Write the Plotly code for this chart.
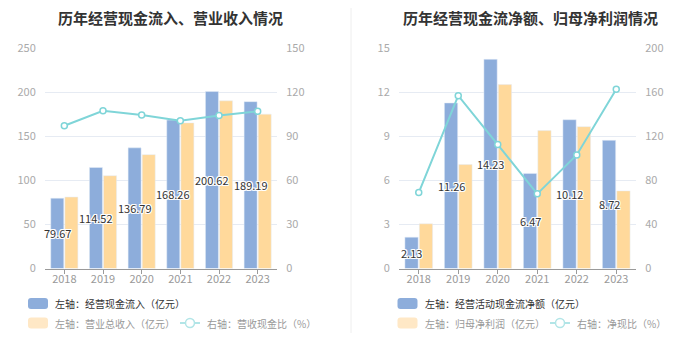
import plotly.graph_objects as go

years = ["2018", "2019", "2020", "2021", "2022", "2023"]

# Left chart
cash_inflow = [79.67, 114.52, 136.79, 168.26, 200.62, 189.19]
revenue = [81.0, 105.2, 129.1, 165.1, 190.1, 175.0]
rev_cash_ratio = [97.1, 107.3, 104.4, 100.5, 104.1, 106.9]

# Right chart
net_cash = [2.13, 11.26, 14.23, 6.47, 10.12, 8.72]
net_profit = [3.04, 7.07, 12.51, 9.38, 9.65, 5.28]
net_cash_ratio = [68.9, 156.8, 112.4, 67.7, 103.0, 162.6]

left_title = "历年经营现金流入、营业收入情况"
right_title = "历年经营现金流净额、归母净利润情况"
left_legend = ["左轴：经营现金流入（亿元）", "左轴：营业总收入（亿元）", "右轴：营收现金比（%）"]
right_legend = ["左轴：经营活动现金流净额（亿元）", "左轴：归母净利润（亿元）", "右轴：净现比（%）"]

BLUE = "#8DADDB"
ORANGE = "#FFD99B"
TEAL = "#7FD5D8"
FONT = "Noto Sans CJK SC"
OFF = 8                      # page body margin
W, H = 700 - OFF, 359 - OFF
BARGAP, GROUPGAP = 0.27, 0.08
SHADOW = "1px 1px 0 #fff, -1px -1px 0 #fff, 1px -1px 0 #fff, -1px 1px 0 #fff, 0 1px 0 #fff, 0 -1px 0 #fff, 1px 0 0 #fff, -1px 0 0 #fff"

def PX(x):
    return (x - OFF) / W

def PY(y):
    return 1 - (y - OFF) / H

fig = go.Figure()

def add_panel(xa, ya, ya2, a, b, ratio):
    fig.add_trace(go.Bar(x=years, y=a, marker_color=BLUE, xaxis=xa, yaxis=ya, showlegend=False))
    fig.add_trace(go.Bar(x=years, y=b, marker_color=ORANGE, xaxis=xa, yaxis=ya, showlegend=False))
    fig.add_trace(go.Scatter(x=years, y=ratio, mode="lines+markers", xaxis=xa, yaxis=ya2,
                             line=dict(color=TEAL, width=2),
                             marker=dict(symbol="circle", size=6, color="white", line=dict(color=TEAL, width=1.5)),
                             showlegend=False))

add_panel("x", "y", "y2", cash_inflow, revenue, rev_cash_ratio)
add_panel("x2", "y3", "y4", net_cash, net_profit, net_cash_ratio)

LDOM = [PX(45), PX(277)]
RDOM = [PX(399), PX(636)]
ydom = [PY(268.5), PY(48)]
xcommon = dict(type="category", range=[-0.5, len(years) - 0.5], showline=True, linecolor="#9a9a9a", linewidth=1,
               ticks="outside", ticklen=4, tickcolor="#9a9a9a", ticklabelstandoff=-4,
               tickfont=dict(size=11, color="#999999"), showgrid=False)
yl = dict(showgrid=True, gridcolor="#E6EBF3", gridwidth=1, zeroline=False, showline=False,
          tickfont=dict(size=11, color="#aaaaaa"), ticks="outside", ticklen=6, tickcolor="rgba(0,0,0,0)")
yr = dict(showgrid=False, zeroline=False, showline=False,
          tickfont=dict(size=11, color="#aaaaaa"), ticks="outside", ticklen=6, tickcolor="rgba(0,0,0,0)")

fig.update_layout(
    width=W, height=H, autosize=False, margin=dict(l=0, r=0, t=0, b=0, pad=0, autoexpand=False),
    paper_bgcolor="white", plot_bgcolor="white",
    barmode="group", bargap=BARGAP, bargroupgap=GROUPGAP, showlegend=False,
    font=dict(family=FONT, size=11, color="#999999"),
    xaxis=dict(domain=LDOM, anchor="y", **xcommon),
    xaxis2=dict(domain=RDOM, anchor="y3", **xcommon),
    yaxis=dict(domain=ydom, anchor="x", range=[0, 250], dtick=50, **yl),
    yaxis2=dict(domain=ydom, anchor="x", overlaying="y", side="right", range=[0, 150], dtick=30, **yr),
    yaxis3=dict(domain=ydom, anchor="x2", range=[0, 15], dtick=3, **yl),
    yaxis4=dict(domain=ydom, anchor="x2", overlaying="y3", side="right", range=[0, 200], dtick=40, **yr),
)

annotations = []
# value labels centred on the first (blue) bar of each group
for xref, yref, dom, vals in (("x", "y", LDOM, cash_inflow), ("x2", "y3", RDOM, net_cash)):
    cat_px = (dom[1] - dom[0]) * W / len(years)
    shift = -(1 - BARGAP) * cat_px / 4
    for i, v in enumerate(vals):
        annotations.append(dict(x=i, y=v / 2, xref=xref, yref=yref, text=f"{v:.2f}",
                                showarrow=False, xshift=shift, yanchor="middle", xanchor="center",
                                font=dict(family=FONT, size=11, color="#333333", shadow=SHADOW)))

annotations.append(dict(x=PX(170), y=PY(18), xref="paper", yref="paper", text=f"<b>{left_title}</b>",
                        showarrow=False, yanchor="middle", xanchor="center", font=dict(family=FONT, size=15, color="#333333")))
annotations.append(dict(x=PX(530.5), y=PY(18), xref="paper", yref="paper", text=f"<b>{right_title}</b>",
                        showarrow=False, yanchor="middle", xanchor="center", font=dict(family=FONT, size=15, color="#333333")))

shapes = [dict(type="line", xref="paper", yref="paper", x0=PX(351), x1=PX(351), y0=PY(333), y1=PY(0),
               line=dict(color="#EEEEEE", width=1))]

def rounded(x0, y0, x1, y1, r, color):
    path = (f"M {PX(x0 + r)},{PY(y0)} L {PX(x1 - r)},{PY(y0)} Q {PX(x1)},{PY(y0)} {PX(x1)},{PY(y0 + r)} "
            f"L {PX(x1)},{PY(y1 - r)} Q {PX(x1)},{PY(y1)} {PX(x1 - r)},{PY(y1)} "
            f"L {PX(x0 + r)},{PY(y1)} Q {PX(x0)},{PY(y1)} {PX(x0)},{PY(y1 - r)} "
            f"L {PX(x0)},{PY(y0 + r)} Q {PX(x0)},{PY(y0)} {PX(x0 + r)},{PY(y0)} Z")
    return dict(type="path", xref="paper", yref="paper", path=path, fillcolor=color, line=dict(width=0))

def legend(x0, line_x0, labels):
    r1, r2 = 303.5, 323
    shapes.append(rounded(x0, r1 - 5.5, x0 + 20, r1 + 5.5, 3, BLUE))
    shapes.append(rounded(x0, r2 - 5.5, x0 + 20, r2 + 5.5, 3, "#FFE8C6"))
    shapes.append(dict(type="line", xref="paper", yref="paper", x0=PX(line_x0), x1=PX(line_x0 + 20),
                       y0=PY(r2), y1=PY(r2), line=dict(color="#B2E5E7", width=2)))
    shapes.append(dict(type="circle", xref="paper", yref="paper", x0=PX(line_x0 + 5.5), x1=PX(line_x0 + 14.5),
                       y0=PY(r2 + 4.5), y1=PY(r2 - 4.5), fillcolor="white", line=dict(color="#B2E5E7", width=1.5)))
    for txt, yy, xx, col in ((labels[0], r1, x0 + 25, "#333333"), (labels[1], r2, x0 + 25, "#999999"),
                             (labels[2], r2, line_x0 + 25, "#999999")):
        annotations.append(dict(x=PX(xx), y=PY(yy), xref="paper", yref="paper", text=txt,
                                xanchor="left", yanchor="middle", showarrow=False,
                                font=dict(family=FONT, size=10, color=col)))

legend(28, 180, left_legend)
legend(397.5, 550, right_legend)

fig.update_layout(annotations=annotations, shapes=shapes)
fig.write_html("out.html")
